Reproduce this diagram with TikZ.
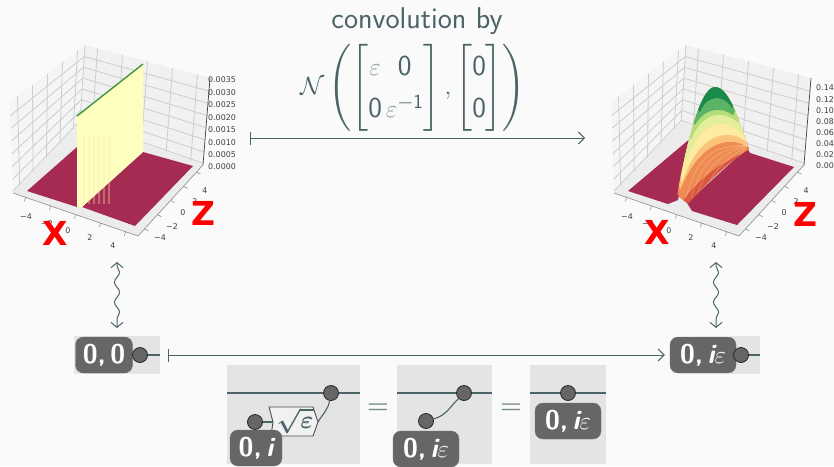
\documentclass[tikz,border=0pt]{standalone}
\usepackage{xcolor}
\usepackage{amsmath,amssymb}
\usepackage{fontspec}
\usepackage{tikz}
\usetikzlibrary{arrows.meta,positioning,calc,decorations.pathmorphing}
\newfontfamily\tickfont{DejaVu Sans}
\definecolor{paper}{HTML}{FAFAFA}
\definecolor{slate}{HTML}{4A6468}
\definecolor{panelgray}{HTML}{E4E4E4}
\definecolor{chipgray}{HTML}{666666}
\definecolor{floorred}{HTML}{A62B52}
\definecolor{paneA}{HTML}{F5F5F5}
\definecolor{paneB}{HTML}{F1F1F1}
\definecolor{gridgray}{HTML}{CDCDCD}
\definecolor{wallyellow}{HTML}{FEFEBF}
\definecolor{wallcream}{HTML}{F8E6AE}
\definecolor{humpA}{HTML}{1A8A4A}
\definecolor{humpB}{HTML}{5DB365}
\definecolor{humpC}{HTML}{B5DE7A}
\definecolor{humpD}{HTML}{E2EE9C}
\definecolor{humpE}{HTML}{FDEBA0}
\definecolor{humpF}{HTML}{FBC27A}
\definecolor{humpG}{HTML}{EF8A55}
\definecolor{humpH}{HTML}{D9583F}
\newcommand{\eps}{{\color{slate!65}\varepsilon}}
\newcommand{\chipi}{{\itshape i}}
\newcommand{\plotbox}{
	\coordinate (FL) at (13,193);
	\coordinate (BK) at (80,122);
	\coordinate (FF) at (138,236);
	\coordinate (FR) at (203,165);
	\coordinate (TL) at (10,102);
	\coordinate (TB) at (85,45);
	\coordinate (TR) at (210,78);
	\fill[paneA] (FL)--(BK)--(TB)--(TL)--cycle;
	\fill[paneB] (BK)--(FR)--(TR)--(TB)--cycle;
	\fill[panelgray!70] (FL)--(FF)--(FR)--(BK)--cycle;
	\foreach \t in {.1,.3,.5,.7,.9} {
		\draw[gridline] ($(FL)!\t!(BK)$) -- ($(TL)!\t!(TB)$);
		\draw[gridline] ($(BK)!\t!(FR)$) -- ($(TB)!\t!(TR)$);
	}
	\foreach \t in {.02,.15,.29,.43,.57,.71,.85} {
		\draw[gridline] ($(FL)!\t!(TL)$) -- ($(BK)!\t!(TB)$) -- ($(FR)!\t!(TR)$);
	}
	\draw[gridline] (BK)--(TB);
	\draw[axisline] (FL)--(FF)--(FR);
	\draw[black!75, line width=.7pt] (FR)--(TR);
	\foreach \t in {.1,.3,.5,.7,.9} {
		\draw[axisline] ($(FL)!\t!(FF)$) -- ++(-1,4);
		\draw[axisline] ($(FF)!\t!(FR)$) -- ++(4,2);
	}
	\node[ticktext] at (26,217) {−4};
	\node[ticktext] at (47,224) {−2};
	\node[ticktext] at (68,231) {0};
	\node[ticktext] at (90,238) {2};
	\node[ticktext] at (113,246) {4};
	\node[ticktext] at (160,238) {−4};
	\node[ticktext] at (172,227) {−2};
	\node[ticktext] at (183,213) {0};
	\node[ticktext] at (195,202) {2};
	\node[ticktext] at (205,191) {4};
}
\tikzset{
	gridline/.style={draw=gridgray, line width=.8pt},
	axisline/.style={draw=black!45, line width=.6pt},
	ticktext/.style={font=\tickfont\fontsize{7.9}{10}\selectfont, text=black!75, inner sep=0pt},
	bigletter/.style={font=\tickfont\bfseries\fontsize{33}{33}\selectfont, text=red, inner sep=0pt},
	chip/.style={draw=black!55, fill=chipgray, rounded corners=8pt, text=white, inner sep=0pt,
		minimum height=36pt, font=\sffamily\bfseries\fontsize{27}{27}\selectfont},
	gate/.style={draw=black!85, circle, fill=chipgray, minimum size=15pt, inner sep=0pt, line width=.8pt},
	wire/.style={draw=slate, line width=1.1pt},
	mapsarrow/.style={draw=slate, line width=1pt, {Bar[width=13pt]}-{Straight Barb[length=6pt,width=12pt]}},
	wavearrow/.style={draw=slate, line width=1pt, {Straight Barb[length=5pt,width=12pt]}-{Straight Barb[length=5pt,width=12pt]},
		decorate, decoration={snake, amplitude=2.6pt, segment length=20pt, pre length=4pt, post length=4pt}},
	panel/.style={fill=panelgray},
	eqsign/.style={text=slate!75, inner sep=0pt, font=\boldmath\fontsize{36}{36}\selectfont},
	streak/.style={draw=humpE, line width=.8pt, opacity=.3},
}
\begin{document}
\begin{tikzpicture}[x=1pt,y=-1pt]
	\useasboundingbox[fill=paper] (0,0) rectangle (834,466);

	% left plot
	\plotbox
	\foreach \v/\y in {0.0000/167,0.0005/155,0.0010/143,0.0015/130,0.0020/118,0.0025/105,0.0030/93,0.0035/80} {
		\node[ticktext, anchor=west] at (208,\y) {\v};
	}
	\fill[floorred] (27,191) -- (77,207) -- (77,147) -- cycle;
	\fill[floorred] (82,207) -- (135,226) -- (193,166) -- (143,152) -- cycle;
	\fill[wallyellow] (77,116) -- (143,64) -- (143,152) -- (82,207) -- (77,207) -- cycle;
	\foreach \a in {84,89,94,99,104,109} {
		\draw[wallcream, line width=2pt, opacity=.35] (\a,204) -- (\a,137);
	}
	\draw[green!45!black!75, line width=1.4pt] (77,116) -- (143,64);
	\node[bigletter] (X1) at (55,233) {X};
	\node[bigletter] (Z1) at (203,213) {Z};

	% right plot
	\begin{scope}[xshift=601pt]
		\plotbox
	\end{scope}
	\foreach \v/\y in {0.00/166,0.02/155,0.04/144,0.06/133,0.08/122,0.10/111,0.12/100,0.14/88} {
		\node[ticktext, anchor=west] at (816,\y) {\v};
	}
	\fill[floorred] (628,191) -- (668,204) -- (678,200) -- (692,137) -- cycle;
	\fill[floorred] (687,203) -- (692,211) -- (737,225) -- (794,167) -- (750,153) -- (747,148) -- cycle;
	\begin{scope}
		\clip (677,195) .. controls (684,160) and (698,87) .. (715,87) .. controls (730,87) and (740,125) .. (749,149) .. controls (725,165) and (705,185) .. (688,204) -- cycle;
		\fill[humpH] (660,80) rectangle (760,210);
		\fill[humpG] (680,205) .. controls (700,175) and (725,160) .. (750,150) -- (760,60) -- (660,60) -- cycle;
		\fill[humpF] (680,190) .. controls (702,137) and (732,137) .. (748,147) -- (760,60) -- (660,60) -- cycle;
		\fill[humpE] (682,183) .. controls (700,129) and (730,129) .. (747,142) -- (760,60) -- (660,60) -- cycle;
		\fill[humpD] (686,163) .. controls (700,117) and (728,117) .. (743,135) -- (760,60) -- (660,60) -- cycle;
		\fill[humpC] (691,140) .. controls (703,110) and (724,110) .. (739,123) -- (760,60) -- (660,60) -- cycle;
		\fill[humpB] (695,125) .. controls (705,107) and (722,107) .. (733,115) -- (760,60) -- (660,60) -- cycle;
		\fill[humpA] (700,112) .. controls (707,94) and (724,94) .. (732,108) -- (760,60) -- (660,60) -- cycle;
		\foreach \a/\b in {686/152,691/156,696/160,702/164,708/168} {
			\draw[streak] (\a,198) .. controls (\a+12,\b) and (\a+30,\b-6) .. (747,145);
		}
	\end{scope}
	\node[bigletter] (X2) at (657,232) {X};
	\node[bigletter] (Z2) at (805,214) {Z};

	% convolution label and top arrow
	\node[font=\sffamily\fontsize{30}{30}\selectfont, text=slate] (conv) at (417,21) {convolution by};
	\node[text=slate, font=\sffamily\fontsize{29}{29}\selectfont, inner sep=0pt] (gauss) at (413,88) {%
		\renewcommand{\arraystretch}{1.45}\setlength{\arraycolsep}{2pt}%
		$\mathcal{N}\left(\begin{bmatrix}\eps & \mathsf{0}\\ \mathsf{0} & \eps^{\mathsf{-1}}\end{bmatrix},\begin{bmatrix}\mathsf{0}\\ \mathsf{0}\end{bmatrix}\right)$};
	\coordinate (topL) at (250,138);
	\coordinate (topR) at (585,138);
	\draw[mapsarrow] (topL) -- (topR);

	% bottom row
	\fill[panel] (74,336) rectangle (160,374);
	\fill[panel] (730,336) rectangle (760,374);
	\node[chip, minimum width=57pt] (A) at (104,355) {0,\,0};
	\node[gate, right of=A, node distance=36pt] (Ag) {};
	\node[chip, minimum width=66pt] (B) at (703,355) {0,\,\chipi$\varepsilon$};
	\node[gate, right of=B, node distance=38pt] (Bg) {};
	\coordinate (Aend) at (160,355);
	\coordinate (Bend) at (760,355);
	\coordinate (midL) at (168,355);
	\draw[wire] (Ag) -- (Aend);
	\draw[wire] (Bg) -- (Bend);
	\draw[mapsarrow, shorten >=5pt] (midL) -- (B);

	% wavy links
	\coordinate (w1a) at (117,262);
	\coordinate (w1b) at (117,328);
	\coordinate (w2a) at (716,262);
	\coordinate (w2b) at (716,328);
	\draw[wavearrow] (w1a) -- (w1b);
	\draw[wavearrow] (w2a) -- (w2b);

	% first box
	\fill[panel] (227,365) rectangle (360,464);
	\coordinate (c1L) at (227,393);
	\coordinate (c1R) at (360,393);
	\draw[wire] (c1L) -- (c1R);
	\node[gate] (C) at (331,393) {};
	\node[gate] (D) at (255,422) {};
	\coordinate (sqL) at (273,422);
	\coordinate (sqR) at (318,422);
	\draw[wire] (D) -- (sqL);
	\draw[wire] (sqR) to[out=60,in=260] (C);
	\draw[draw=black!70, fill=paneB, line width=.9pt] (269,407) -- (313,407) -- (318,422) -- (313,436) -- (271,436) -- (273,422) -- cycle;
	\node[text=slate, font=\boldmath\fontsize{26}{26}\selectfont, inner sep=0pt] (sq) at (295,421) {$\sqrt{\varepsilon}$};
	\node[chip, minimum width=52pt] (E) at (256,448) {0,\,\chipi};

	\node[eqsign] (eq1) at (378,409) {$=$};

	% second box
	\fill[panel] (397,365) rectangle (492,464);
	\coordinate (c2L) at (397,393);
	\coordinate (c2R) at (492,393);
	\draw[wire] (c2L) -- (c2R);
	\node[gate] (F) at (464,393) {};
	\node[gate] (G) at (426,421) {};
	\draw[wire] (G) to[out=15,in=225] (F);
	\node[chip, minimum width=66pt] (H) at (426,449) {0,\,\chipi$\varepsilon$};

	\node[eqsign] (eq2) at (511,409) {$=$};

	% third box
	\fill[panel] (530,365) rectangle (606,464);
	\coordinate (c3L) at (530,393);
	\coordinate (c3R) at (606,393);
	\draw[wire] (c3L) -- (c3R);
	\node[gate] (J) at (568,393) {};
	\node[chip, minimum width=66pt] (K) at (568,421) {0,\,\chipi$\varepsilon$};
\end{tikzpicture}
\end{document}
